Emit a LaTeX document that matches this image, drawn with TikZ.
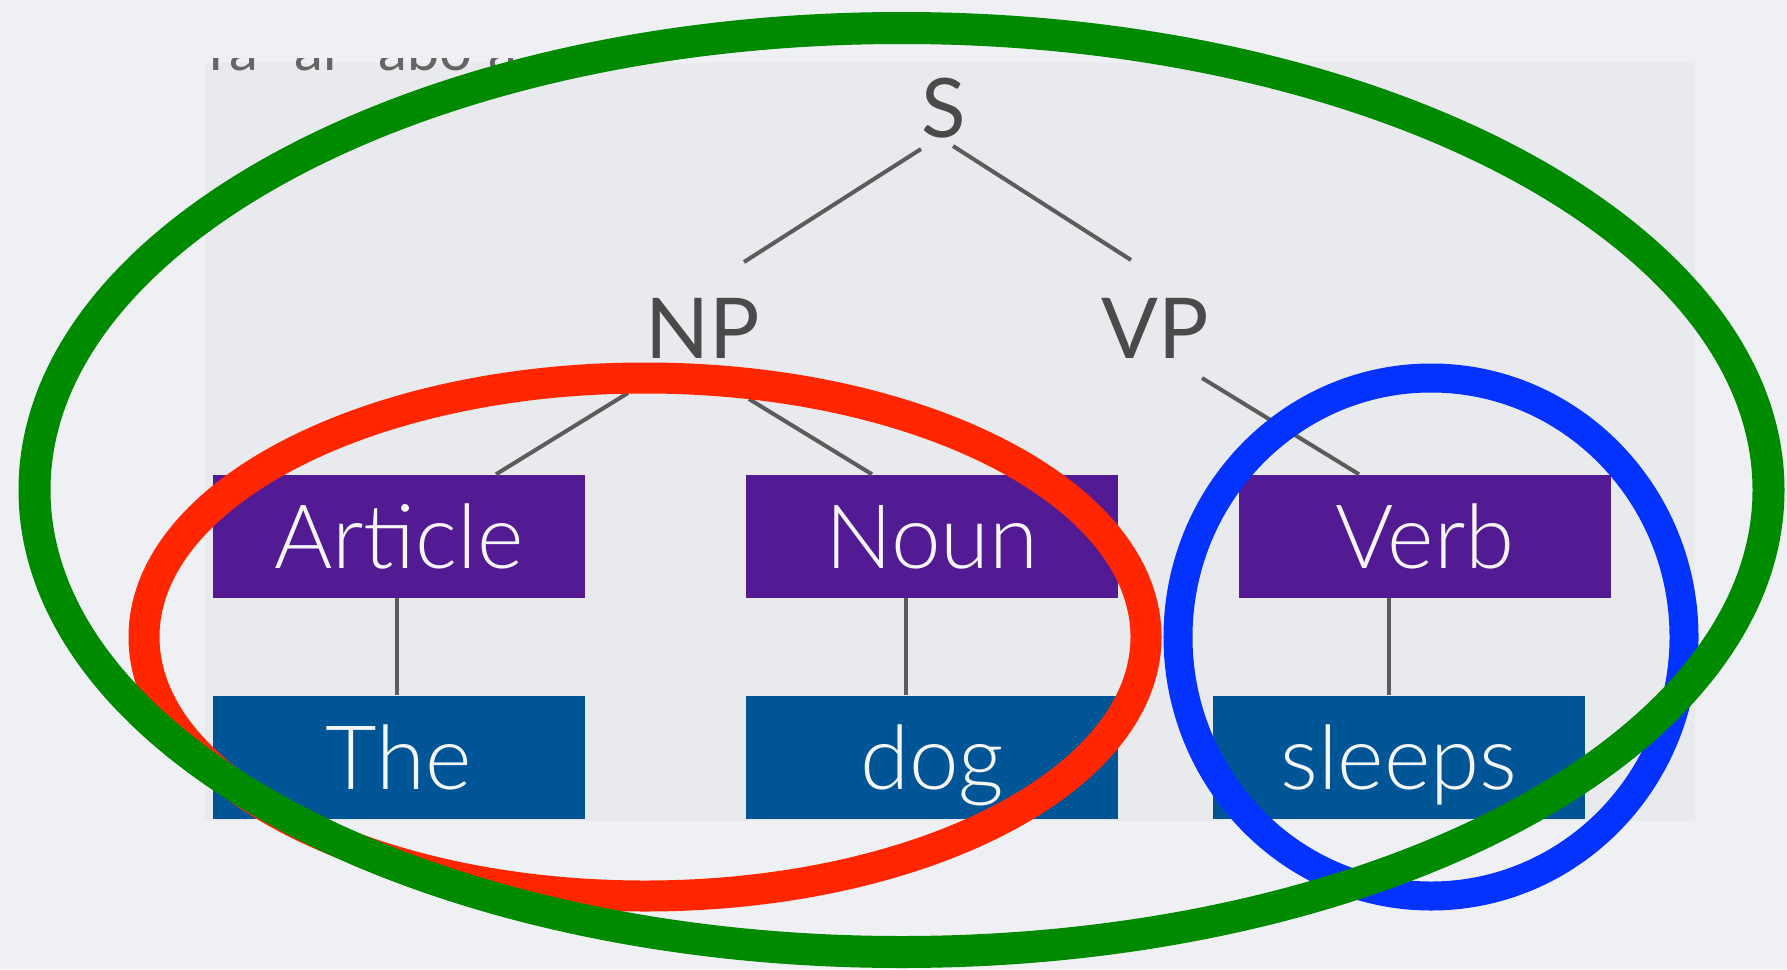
\documentclass[tikz,border=0pt]{standalone}
\usepackage{fontspec}
\setmainfont{Lato}
\newfontfamily\thinfont{Lato Light}
\usetikzlibrary{calc}
\definecolor{pagebg}{HTML}{EFF0F4}
\definecolor{panelbg}{HTML}{E8EAED}
\definecolor{treegray}{HTML}{4A4A4A}
\definecolor{catpurple}{HTML}{531B93}
\definecolor{wordblue}{HTML}{005596}
\definecolor{ringgreen}{HTML}{008A00}
\definecolor{ringred}{HTML}{FF2600}
\definecolor{ringblue}{HTML}{0433FF}
\tikzset{
  phrase/.style={text=treegray, inner sep=0pt, font=\fontsize{84}{84}\selectfont},
  wordbox/.style={inner sep=0pt, minimum width=372pt, minimum height=123pt,
    text height=64pt, text depth=0pt, text=white!93!gray,
    font=\thinfont\fontsize{89}{89}\selectfont},
  category/.style={wordbox, fill=catpurple},
  leaf/.style={wordbox, fill=wordblue},
  branch/.style={draw=treegray!90, line width=4pt},
  ring/.style={line width=31pt},
}
\begin{document}
\begin{tikzpicture}[x=1pt, y=-1pt]
\useasboundingbox (0,0) rectangle (1787,969);
\fill[pagebg] (0,0) rectangle (1787,969);
\fill[panelbg] (205,63) rectangle (1695,821);

% line of text cut off at the top edge
\begin{scope}
  \clip (205,58) rectangle (560,80);
  \node[anchor=base west, inner sep=0pt, text=treegray!85,
        font=\fontsize{58}{58}\selectfont] (frag) at (209,70)
        {ra\hspace{36pt}ar\hspace{34pt}abo\hspace{16pt}a};
\end{scope}

% tree labels
\node[phrase, font=\fontsize{82}{82}\selectfont] (S) at (944,108) {S};
\node[phrase] (NP) at (703,328) {NP};
\node[phrase] (VP) at (1155,328) {VP};

% category boxes
\node[category] (art)  at (399,536)  {Article};
\node[category] (noun) at (932,536)  {Noun};
\node[category] (verb) at (1425,536) {Verb};

% word boxes
\node[leaf] (the)    at (399,757)  {The};
\node[leaf] (dog)    at (932,757)  {dog};
\node[leaf] (sleeps) at (1399,757) {sleeps};

% branches
\draw[branch] ([shift={(-23,41)}]S.center) -- ([shift={(41,-66)}]NP.center);
\draw[branch] ([shift={(9,38)}]S.center) -- ([shift={(-24,-68)}]VP.center);
\draw[branch] ([shift={(-75,65)}]NP.center) -- ([xshift=97pt]art.north);
\draw[branch] ([shift={(46,71)}]NP.center) -- ([xshift=-60pt]noun.north);
\draw[branch] ([shift={(47,50)}]VP.center) -- ([xshift=-66pt]verb.north);
\draw[branch] ([xshift=-2pt]art.south) -- ([xshift=-2pt]art.south |- the.north);
\draw[branch] ([xshift=-26pt]noun.south) -- ([xshift=-26pt]noun.south |- dog.north);
\draw[branch] ([xshift=-36pt]verb.south) -- ([xshift=-36pt]verb.south |- sleeps.north);

% highlighting rings
\draw[ring, draw=ringred]  (645,637) ellipse [x radius=501, y radius=259];
\draw[ring, draw=ringblue, line width=29pt] (1431,637) ellipse [x radius=253, y radius=259];
\draw[ring, draw=ringgreen, line width=32pt] (901.5,490) ellipse [x radius=867, y radius=462];
\end{tikzpicture}
\end{document}
